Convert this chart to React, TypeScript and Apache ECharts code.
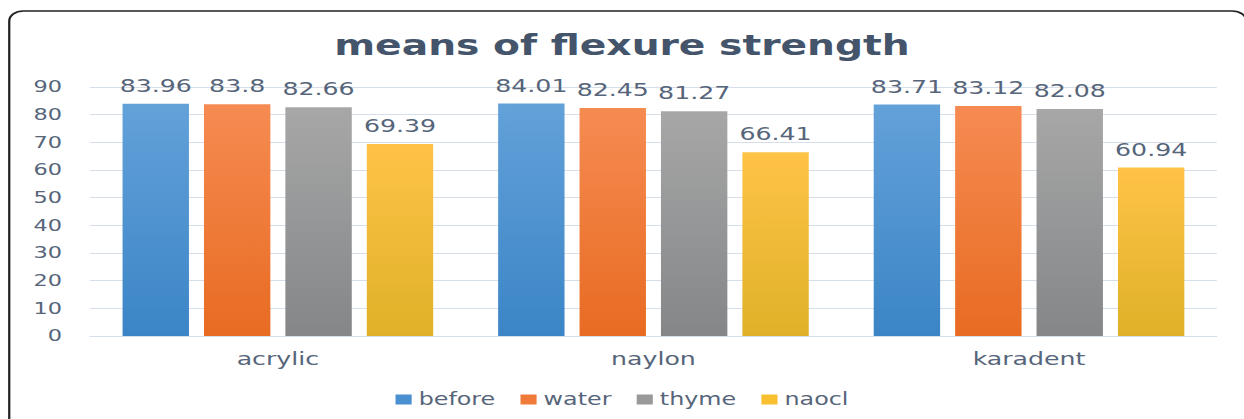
import React, { useEffect, useRef } from "react";
import * as echarts from "echarts";

const categories = ["acrylic", "naylon", "karadent"];
const seriesNames = ["before", "water", "thyme", "naocl"];
const before = [83.96, 84.01, 83.71];
const water = [83.8, 82.45, 83.12];
const thyme = [82.66, 81.27, 82.08];
const naocl = [69.39, 66.41, 60.94];
const yTicks = { min: 0, max: 90, interval: 10 };

const W = 888;
const H = 419;
const S = 1244 / W;

const TEXT = "#56657a";
const FONT = "DejaVu Sans";

const palettes = [
  { top: "#63a1d9", bottom: "#3b85c6", icon: "#4a8fcf" },
  { top: "#f68b52", bottom: "#e86b22", icon: "#f07b38" },
  { top: "#a7a7a7", bottom: "#848688", icon: "#999999" },
  { top: "#ffc347", bottom: "#dfb128", icon: "#f8c02e" },
];

export default function App() {
  const ref = useRef<HTMLDivElement>(null);
  useEffect(() => {
    document.body.style.overflow = "hidden";
    const chart = echarts.init(ref.current!, null, { renderer: "svg" });
    const data = [before, water, thyme, naocl];
    chart.setOption({
      animation: false,
      backgroundColor: "#ffffff",
      title: {
        text: "means of flexure strength",
        left: "center",
        top: 26,
        textStyle: { fontFamily: FONT, fontSize: 28, fontWeight: "bold", color: "#44546a" },
      },
      graphic: [
        {
          type: "rect",
          silent: true,
          z: 100,
          shape: { x: 6.6, y: 11, width: 883, height: 440, r: 10 },
          style: { fill: "none", stroke: "#222222", lineWidth: 1.6 },
        },
      ],
      legend: {
        data: seriesNames.map((n, i) => ({ name: n, itemStyle: { color: palettes[i].icon } })),
        top: 386,
        left: "center",
        itemWidth: 11.5,
        itemHeight: 10,
        itemGap: 18,
        icon: "rect",
        textStyle: { fontFamily: FONT, fontSize: 17, color: TEXT },
      },
      grid: { left: 64.3, right: 19.4, top: 87, bottom: 83, containLabel: false },
      xAxis: {
        type: "category",
        data: categories,
        axisTick: { show: false },
        axisLine: { lineStyle: { color: "#d6dfe9", width: 1 } },
        axisLabel: { margin: 14, fontFamily: FONT, fontSize: 18, color: TEXT },
      },
      yAxis: {
        type: "value",
        min: yTicks.min,
        max: yTicks.max,
        interval: yTicks.interval,
        axisLine: { show: false },
        axisTick: { show: false },
        splitLine: { lineStyle: { color: "#d6dfe9", width: 1 } },
        axisLabel: { margin: 20, fontFamily: FONT, fontSize: 16, color: TEXT },
      },
      series: seriesNames.map((name, i) => ({
        name,
        type: "bar",
        data: data[i],
        barWidth: 47.4,
        barGap: "22.6%",
        itemStyle: {
          color: new echarts.graphic.LinearGradient(0, 0, 0, 1, [
            { offset: 0, color: palettes[i].top },
            { offset: 1, color: palettes[i].bottom },
          ]),
        },
        label: {
          show: true,
          position: "top",
          distance: 9,
          fontFamily: FONT,
          fontSize: 18,
          color: TEXT,
        },
      })),
    });
    return () => chart.dispose();
  }, []);
  return (
    <div
      ref={ref}
      style={{
        position: "absolute",
        left: 0,
        top: 0,
        width: W,
        height: H,
        transform: `scaleX(${S})`,
        transformOrigin: "0 0",
      }}
    />
  );
}
